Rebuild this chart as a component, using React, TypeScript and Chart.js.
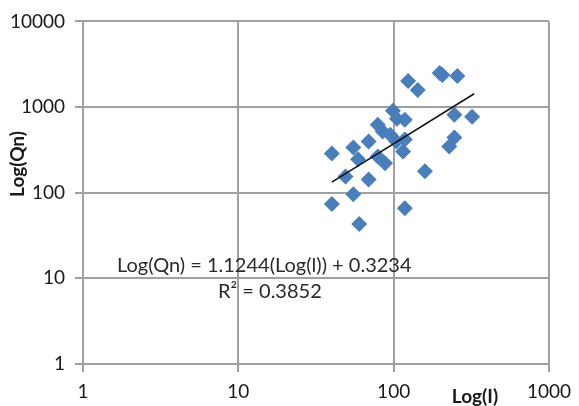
import React, { useEffect, useRef } from "react";
import { Chart, registerables } from "chart.js";

Chart.register(...registerables);

// Data
const X_VALUES = [124, 143, 198, 206, 257, 99, 246, 320, 79, 105, 118, 85, 95, 69, 118, 246, 228, 40, 55, 59, 79, 88, 115, 49, 69, 159, 55, 40, 118, 60, 104];
const Y_VALUES = [2015, 1585, 2495, 2366, 2303, 905, 813, 771, 622, 731, 711, 517, 476, 395, 417, 440, 346, 287, 337, 245, 265, 220, 303, 155, 143, 178, 96, 74, 66, 43, 395];

const X_TICKS = [1, 10, 100, 1000];
const Y_TICKS = [1, 10, 100, 1000, 10000];

const TREND_SLOPE = 1.1244;
const TREND_INTERCEPT = 0.3234;
const TREND_R2 = 0.3852;
const TREND_X_RANGE = [40, 330];

const X_TITLE = "Log(I)";
const Y_TITLE = "Log(Qn)";
const EQUATION = `Log(Qn) = ${TREND_SLOPE}(Log(l)) + ${TREND_INTERCEPT}`;
const R2_LABEL = `R² = ${TREND_R2}`;

const FONT = "Lato, 'Open Sans', sans-serif";
const GRID = "#a0a0a0";

export default function App() {
  const ref = useRef<HTMLCanvasElement | null>(null);

  useEffect(() => {
    if (!ref.current) return;
    const points = X_VALUES.map((x, i) => ({ x, y: Y_VALUES[i] }));
    const trend = TREND_X_RANGE.map((x) => ({
      x,
      y: Math.pow(10, TREND_SLOPE * Math.log10(x) + TREND_INTERCEPT),
    }));

    const textPlugin = {
      id: "texts",
      afterDraw(chart: any) {
        const ctx = chart.ctx;
        ctx.save();
        ctx.fillStyle = "#1a1a1a";
        ctx.textBaseline = "middle";
        ctx.font = `bold 19px ${FONT}`;
        ctx.textAlign = "center";
        ctx.fillText(X_TITLE, 475, 397);
        ctx.save();
        ctx.translate(18, 164);
        ctx.rotate(-Math.PI / 2);
        ctx.fillText(Y_TITLE, 0, 0);
        ctx.restore();
        ctx.font = `20px ${FONT}`;
        ctx.fillStyle = "#2a2a2a";
        ctx.textAlign = "left";
        ctx.fillText(EQUATION, 117, 266);
        ctx.fillText(R2_LABEL, 218, 292);
        ctx.restore();
      },
    };

    const chart = new Chart(ref.current, {
      type: "scatter",
      data: {
        datasets: [
          {
            data: trend,
            showLine: true,
            borderColor: "#111111",
            borderWidth: 1.5,
            pointRadius: 0,
            fill: false,
          } as any,
          {
            data: points,
            pointStyle: "rectRot",
            pointRadius: 8,
            pointBackgroundColor: "#4a7ebb",
            pointBorderColor: "#4a7ebb",
            pointBorderWidth: 0,
          },
        ],
      },
      options: {
        animation: false,
        responsive: false,
        layout: { padding: { top: 19, right: 20, left: 0, bottom: 0 } },
        plugins: { legend: { display: false }, tooltip: { enabled: false } },
        scales: {
          x: {
            type: "logarithmic",
            min: 1,
            max: 1000,
            afterBuildTicks: (s: any) => {
              s.ticks = X_TICKS.map((v) => ({ value: v }));
            },
            afterFit: (s: any) => {
              s.height = 42;
            },
            ticks: {
              callback: (v: any) => String(v),
              color: "#1a1a1a",
              font: { family: FONT, size: 19 },
              padding: 8,
              maxRotation: 0,
              autoSkip: false,
            },
            grid: { color: GRID, lineWidth: 2, tickLength: 8 },
            border: { color: GRID, width: 2 },
          },
          y: {
            type: "logarithmic",
            min: 1,
            max: 10000,
            afterBuildTicks: (s: any) => {
              s.ticks = Y_TICKS.map((v) => ({ value: v }));
            },
            afterFit: (s: any) => {
              s.width = 83;
            },
            ticks: {
              callback: (v: any) => String(v),
              color: "#1a1a1a",
              font: { family: FONT, size: 19 },
              padding: 10,
              autoSkip: false,
            },
            grid: { color: GRID, lineWidth: 2, tickLength: 8 },
            border: { color: GRID, width: 2 },
          },
        },
      },
      plugins: [textPlugin],
    });
    return () => chart.destroy();
  }, []);

  return (
    <div style={{ position: "fixed", left: 0, top: 0, width: 579, height: 406, background: "#fff" }}>
      <canvas ref={ref} width={579} height={406} style={{ width: 579, height: 406 }} />
    </div>
  );
}
